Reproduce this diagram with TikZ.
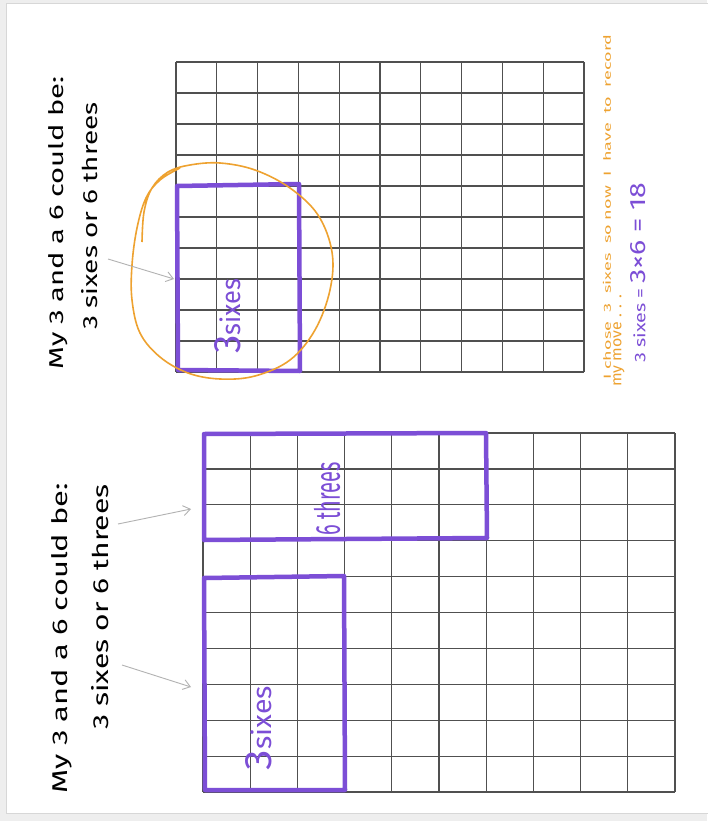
\documentclass[tikz,border=0pt]{standalone}
\usepackage{fontspec}
\setmainfont{Fira Sans}
\usetikzlibrary{arrows.meta}
\definecolor{pur}{RGB}{124,78,214}
\definecolor{orng}{RGB}{238,162,48}
\definecolor{gline}{RGB}{80,80,80}
\definecolor{arrowgray}{RGB}{178,178,178}
\definecolor{pagebg}{RGB}{238,238,238}
\definecolor{pageedge}{RGB}{215,215,215}
\tikzset{
  gridline/.style={draw=gline, line width=1.2pt},
  pbox/.style={draw=pur, line width=4.5pt, line join=round, line cap=round},
  hand/.style={rotate=90, inner sep=0pt, text=black},
  plabel/.style={rotate=90, inner sep=0pt, text=pur},
  olabel/.style={rotate=90, inner sep=0pt, text=orng, anchor=west},
  pointer/.style={draw=arrowgray, line width=0.9pt, -{Straight Barb[length=7pt,width=10pt]}},
  loop/.style={draw=orng, line width=1.6pt},
}
\begin{document}
\begin{tikzpicture}[x=1pt,y=-1pt]
\useasboundingbox (0,0) rectangle (707,821);
\fill[pagebg] (0,0) rectangle (707,821);
\filldraw[fill=white, draw=pageedge, line width=0.8pt] (6,3) rectangle (714,813);

% ---------- top-right grid (10 x 10) ----------
\foreach \i in {0,...,10} {
  \draw[gridline] ({176+\i*40.8},62) -- ({176+\i*40.8},372);
  \draw[gridline] (176,{62+\i*31}) -- (584,{62+\i*31});
}
% ---------- bottom-left grid (10 x 10) ----------
\foreach \i in {0,...,10} {
  \draw[gridline] ({203+\i*47.2},433) -- ({203+\i*47.2},792);
  \draw[gridline] (203,{433+\i*35.9}) -- (675,{433+\i*35.9});
}

% purple rectangles
\draw[pbox] (177,186) -- (299,184) -- (300,371) -- (178,370) -- cycle;
\draw[pbox] (204,434) -- (486,433) -- (487,538) -- (204,540) -- cycle;
\draw[pbox] (204,578) -- (344,576) -- (345,790) -- (205,790) -- cycle;

% orange loop
\draw[loop] plot[smooth, tension=0.6] coordinates {(142,242) (144,212) (152,188) (168,172) (190,165) (220,163) (255,170) (290,188) (318,215) (332,252) (330,290) (315,330) (290,360) (255,376) (220,379) (188,373) (160,357) (140,333) (132,300) (132,265) (137,228) (146,198) (160,180) (180,168)};

% ---------- texts ----------
\node[hand] (tA1) at (58,223) {\resizebox{293pt}{15pt}{My 3 and a 6 could be:}};
\node[hand] (tA2) at (90,216) {\resizebox{227pt}{16pt}{3 sixes or 6 threes}};
\node[hand] (tB1) at (62,638) {\resizebox{310pt}{16pt}{My 3 and a 6 could be:}};
\node[hand] (tB2) at (100,607) {\resizebox{245pt}{17pt}{3 sixes or 6 threes}};

\node[plabel] (lA) at (228,316) {\resizebox{75pt}{26pt}{\Large 3\normalsize sixes}};
\node[plabel] (lB) at (259,728) {\resizebox{84pt}{26pt}{\Large 3\normalsize sixes}};
\node[plabel] (lC) at (327,499) {\resizebox{73pt}{26pt}{6 threes}};

\node[olabel] (o1) at (607,380) {\resizebox{345pt}{8pt}{I chose\ \ 3\ \ sixes\ \ so now\ \ I\ \ have\ \ to\ \ record}};
\node[olabel] (o2) at (619,387) {\resizebox{92pt}{8pt}{my move . . .}};
\node[plabel, anchor=west] (eq) at (638,363) {\resizebox{180pt}{15pt}{3 sixes = \Large 3×6 = 18}};

% ---------- pointers ----------
\coordinate (sA) at (108,259);
\coordinate (eA) at (174,279);
\coordinate (sB1) at (118,524);
\coordinate (eB1) at (191,509);
\coordinate (sB2) at (122,665);
\coordinate (eB2) at (191,687);
\draw[pointer] (sA) -- (eA);
\draw[pointer] (sB1) -- (eB1);
\draw[pointer] (sB2) -- (eB2);
\end{tikzpicture}
\end{document}
